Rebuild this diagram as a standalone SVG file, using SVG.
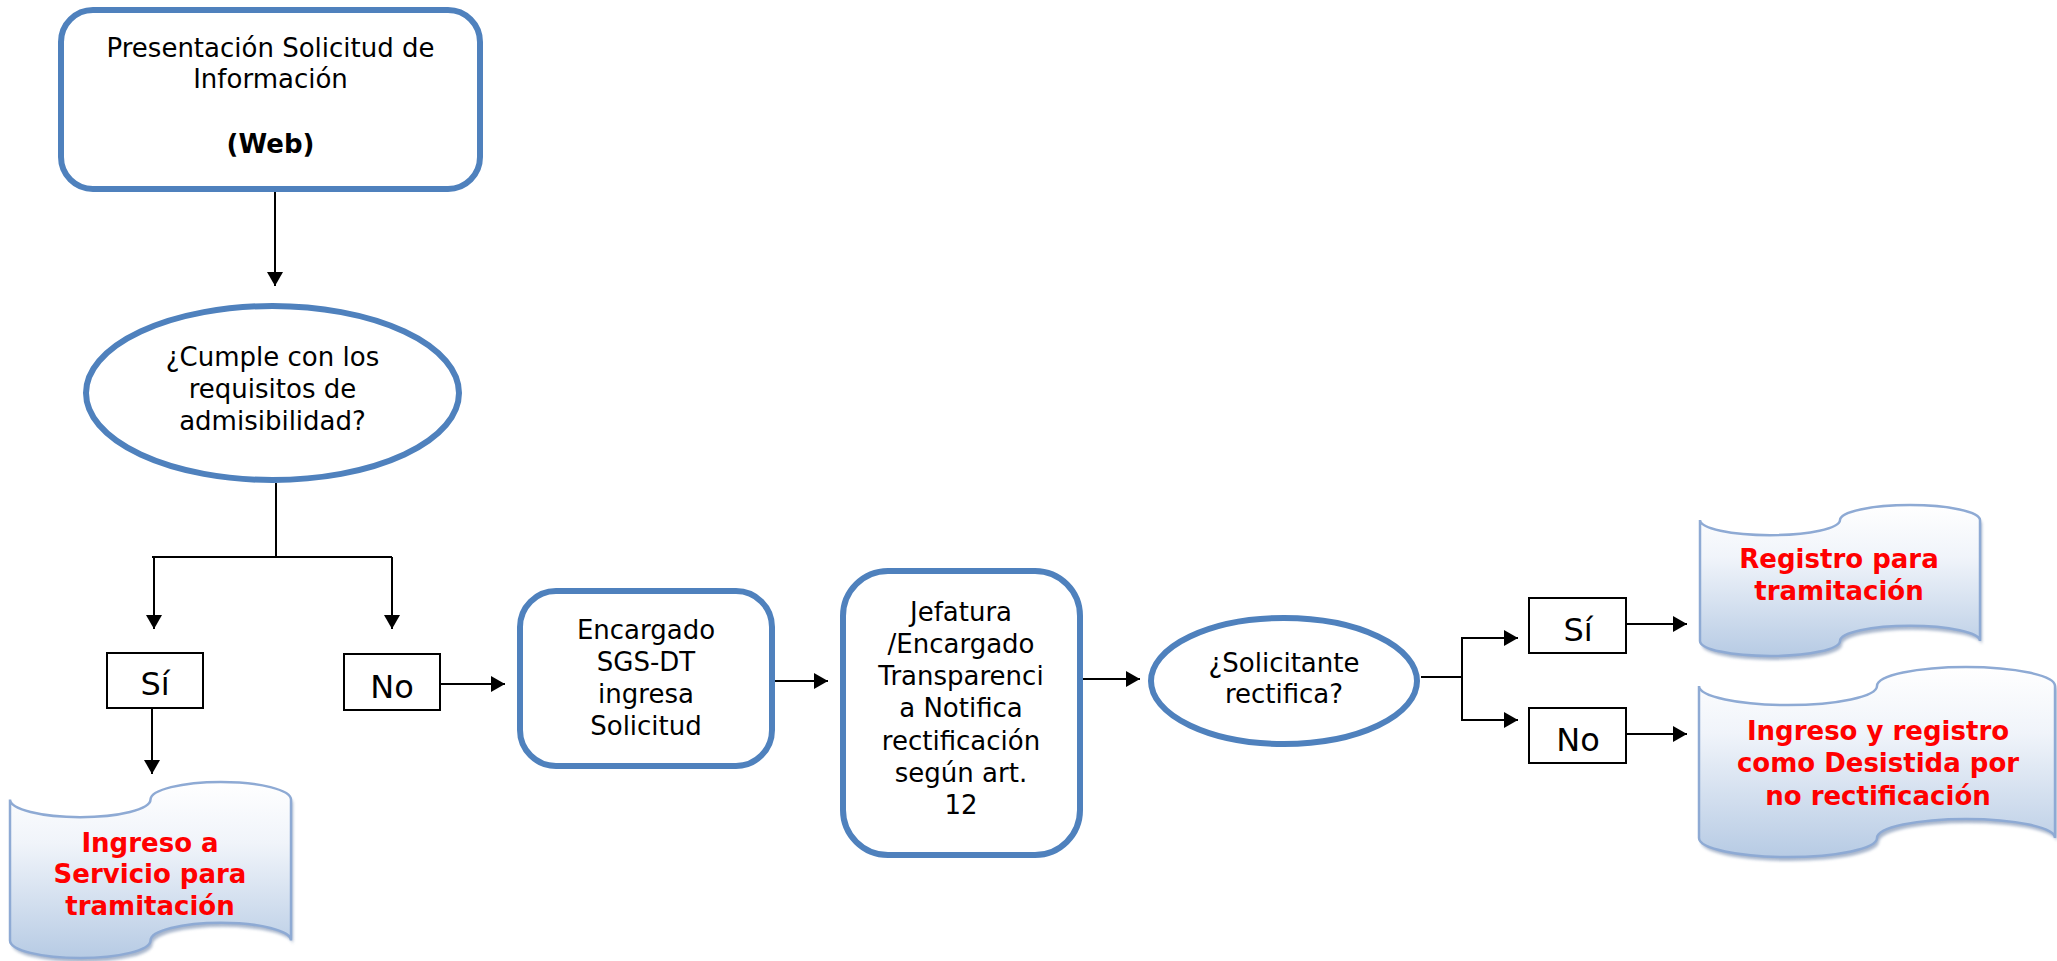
<svg xmlns="http://www.w3.org/2000/svg" width="2057" height="961" viewBox="0 0 2057 961">
  <defs>
    <style>
      .proc { fill: #ffffff; stroke: #4f81bd; stroke-width: 6; }
      .tag { fill: #ffffff; stroke: #000000; stroke-width: 2; }
      .tape { fill: url(#tapeFill); stroke: #8eaad4; stroke-width: 2.5; }
      .tapeShadow { fill: #8a9dbb; opacity: 0.75; filter: url(#soft); }
      .txt { font-family: "DejaVu Sans", Verdana, sans-serif; font-size: 26px; fill: #000000; text-anchor: middle; }
      .big { font-family: "DejaVu Sans", Verdana, sans-serif; font-size: 32px; fill: #000000; text-anchor: middle; }
      .bold { font-weight: bold; }
      .red { font-family: "DejaVu Sans", Verdana, sans-serif; font-size: 26px; font-weight: bold; fill: #ff0000; text-anchor: middle; }
      .conn { fill: none; stroke: #000000; stroke-width: 2; }
    </style>
    <linearGradient id="tapeFill" x1="0" y1="0" x2="0" y2="1">
      <stop offset="0" stop-color="#ffffff"/>
      <stop offset="0.35" stop-color="#f0f4fa"/>
      <stop offset="1" stop-color="#b7cbe4"/>
    </linearGradient>
    <filter id="soft" x="-5%" y="-5%" width="110%" height="115%">
      <feGaussianBlur stdDeviation="1.5"/>
    </filter>
    <marker id="arrow" viewBox="0 0 14 16" markerWidth="14" markerHeight="16" refX="14" refY="8" orient="auto" markerUnits="userSpaceOnUse">
      <path d="M0,0 L14,8 L0,16 Z" fill="#000000"/>
    </marker>
  </defs>

  <!-- connectors -->
  <g id="connectors">
    <line class="conn" x1="275" y1="192" x2="275" y2="286" marker-end="url(#arrow)"/>
    <line class="conn" x1="276" y1="483" x2="276" y2="557"/>
    <line class="conn" x1="152" y1="557" x2="392" y2="557"/>
    <line class="conn" x1="154" y1="557" x2="154" y2="629" marker-end="url(#arrow)"/>
    <line class="conn" x1="392" y1="557" x2="392" y2="629" marker-end="url(#arrow)"/>
    <line class="conn" x1="152" y1="708" x2="152" y2="774" marker-end="url(#arrow)"/>
    <line class="conn" x1="440" y1="684" x2="505" y2="684" marker-end="url(#arrow)"/>
    <line class="conn" x1="775" y1="681" x2="828" y2="681" marker-end="url(#arrow)"/>
    <line class="conn" x1="1083" y1="679" x2="1140" y2="679" marker-end="url(#arrow)"/>
    <line class="conn" x1="1421" y1="677" x2="1462" y2="677"/>
    <line class="conn" x1="1462" y1="637" x2="1462" y2="721"/>
    <line class="conn" x1="1462" y1="638" x2="1518" y2="638" marker-end="url(#arrow)"/>
    <line class="conn" x1="1462" y1="720" x2="1518" y2="720" marker-end="url(#arrow)"/>
    <line class="conn" x1="1626" y1="624" x2="1687" y2="624" marker-end="url(#arrow)"/>
    <line class="conn" x1="1626" y1="734" x2="1687" y2="734" marker-end="url(#arrow)"/>
  </g>

  <!-- start: web request -->
  <g id="presentacion">
    <rect class="proc" x="61" y="10" width="419" height="179" rx="32" ry="32"/>
    <text class="txt" x="270.5" y="57">Presentación Solicitud de</text>
    <text class="txt" x="270.5" y="88">Información</text>
    <text class="txt bold" x="270.5" y="153">(Web)</text>
  </g>

  <!-- admissibility decision -->
  <g id="cumple">
    <ellipse class="proc" cx="272.5" cy="393" rx="186.5" ry="87"/>
    <text class="txt" x="272.5" y="366">¿Cumple con los</text>
    <text class="txt" x="272.5" y="398">requisitos de</text>
    <text class="txt" x="272.5" y="430">admisibilidad?</text>
  </g>

  <g id="si1">
    <rect class="tag" x="107" y="653" width="96" height="55"/>
    <text class="big" x="155" y="695">Sí</text>
  </g>

  <g id="no1">
    <rect class="tag" x="344" y="654" width="96" height="56"/>
    <text class="big" x="392" y="698">No</text>
  </g>

  <g id="ingreso-servicio">
    <path class="tapeShadow" transform="translate(2,4)" d="M10,799.6 A70.25,17.6 0 0 0 150.5,799.6 A70.25,17.6 0 0 1 291,799.6 L291,940.4 A70.25,17.6 0 0 0 150.5,940.4 A70.25,17.6 0 0 1 10,940.4 Z"/>
    <path class="tape" d="M10,799.6 A70.25,17.6 0 0 0 150.5,799.6 A70.25,17.6 0 0 1 291,799.6 L291,940.4 A70.25,17.6 0 0 0 150.5,940.4 A70.25,17.6 0 0 1 10,940.4 Z"/>
    <text class="red" x="150" y="852">Ingreso a</text>
    <text class="red" x="150" y="883">Servicio para</text>
    <text class="red" x="150" y="915">tramitación</text>
  </g>

  <g id="encargado">
    <rect class="proc" x="520" y="591" width="252" height="175" rx="36" ry="36"/>
    <text class="txt" x="646" y="639">Encargado</text>
    <text class="txt" x="646" y="671">SGS-DT</text>
    <text class="txt" x="646" y="703">ingresa</text>
    <text class="txt" x="646" y="735">Solicitud</text>
  </g>

  <g id="jefatura">
    <rect class="proc" x="843" y="571" width="237" height="284" rx="45" ry="45"/>
    <text class="txt" x="961" y="621">Jefatura</text>
    <text class="txt" x="961" y="653">/Encargado</text>
    <text class="txt" x="961" y="685">Transparenci</text>
    <text class="txt" x="961" y="717">a Notifica</text>
    <text class="txt" x="961" y="750">rectificación</text>
    <text class="txt" x="961" y="782">según art.</text>
    <text class="txt" x="961" y="814">12</text>
  </g>

  <!-- rectification decision -->
  <g id="rectifica">
    <ellipse class="proc" cx="1284" cy="681" rx="133" ry="63"/>
    <text class="txt" x="1284" y="672">¿Solicitante</text>
    <text class="txt" x="1284" y="703">rectifica?</text>
  </g>

  <g id="si2">
    <rect class="tag" x="1529" y="598" width="97" height="55"/>
    <text class="big" x="1578" y="641">Sí</text>
  </g>

  <g id="no2">
    <rect class="tag" x="1529" y="708" width="97" height="55"/>
    <text class="big" x="1578" y="751">No</text>
  </g>

  <g id="registro">
    <path class="tapeShadow" transform="translate(2,4)" d="M1700,520.1 A70,15.1 0 0 0 1840,520.1 A70,15.1 0 0 1 1980,520.1 L1980,640.9 A70,15.1 0 0 0 1840,640.9 A70,15.1 0 0 1 1700,640.9 Z"/>
    <path class="tape" d="M1700,520.1 A70,15.1 0 0 0 1840,520.1 A70,15.1 0 0 1 1980,520.1 L1980,640.9 A70,15.1 0 0 0 1840,640.9 A70,15.1 0 0 1 1700,640.9 Z"/>
    <text class="red" x="1839" y="568">Registro para</text>
    <text class="red" x="1839" y="600">tramitación</text>
  </g>

  <g id="desistida">
    <path class="tapeShadow" transform="translate(2,4)" d="M1699,686 A89,19 0 0 0 1877,686 A89,19 0 0 1 2055,686 L2055,838 A89,19 0 0 0 1877,838 A89,19 0 0 1 1699,838 Z"/>
    <path class="tape" d="M1699,686 A89,19 0 0 0 1877,686 A89,19 0 0 1 2055,686 L2055,838 A89,19 0 0 0 1877,838 A89,19 0 0 1 1699,838 Z"/>
    <text class="red" x="1878" y="740">Ingreso y registro</text>
    <text class="red" x="1878" y="772">como Desistida por</text>
    <text class="red" x="1878" y="805">no rectificación</text>
  </g>
</svg>
